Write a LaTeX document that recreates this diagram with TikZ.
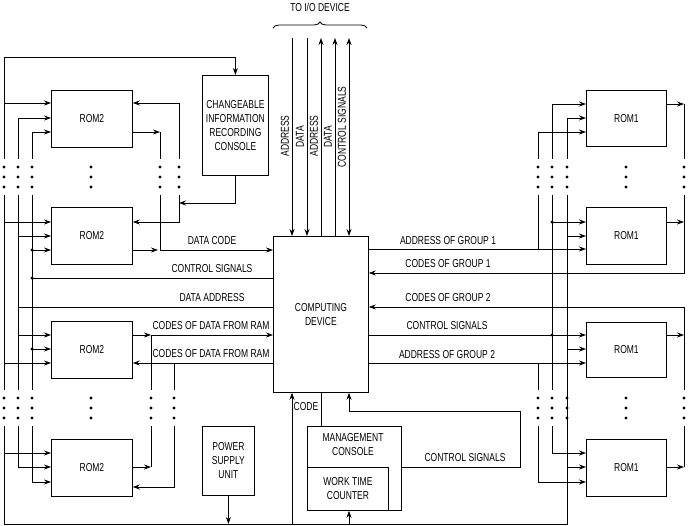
\documentclass[tikz,border=0pt]{standalone}
\usepackage{fontspec}
\setmainfont[FakeStretch=0.74]{Liberation Sans}
\usetikzlibrary{arrows.meta,decorations.pathreplacing}
\begin{document}
\begin{tikzpicture}[x=1pt,y=-1pt,line width=0.8pt,
  >={Stealth[length=7pt,width=5pt]},
  font=\fontsize{11.5}{14}\selectfont,
  box/.style={draw, inner sep=0pt, align=center, anchor=north west},
  lbl/.style={inner sep=0pt, align=center}]
\useasboundingbox (0,0) rectangle (690,526);
% boxes
\node[box, minimum width=81pt, minimum height=57pt] (r2a) at (51,90) {ROM2};
\node[box, minimum width=81pt, minimum height=57pt] (r2b) at (51,207) {ROM2};
\node[box, minimum width=81pt, minimum height=57pt] (r2c) at (51,321) {ROM2};
\node[box, minimum width=81pt, minimum height=57pt] (r2d) at (51,439) {ROM2};
\node[box, minimum width=80pt, minimum height=56pt] (r1a) at (586,90) {ROM1};
\node[box, minimum width=80pt, minimum height=57pt] (r1b) at (586,207) {ROM1};
\node[box, minimum width=80pt, minimum height=55pt] (r1c) at (586,322) {ROM1};
\node[box, minimum width=80pt, minimum height=57pt] (r1d) at (586,439) {ROM1};
\node[box, minimum width=66pt, minimum height=100pt] (chg) at (202,75) {CHANGEABLE\\INFORMATION\\RECORDING\\CONSOLE};
\node[box, minimum width=95pt, minimum height=156pt] (comp) at (273,236) {COMPUTING\\DEVICE};
\node[box, minimum width=52pt, minimum height=69pt] (pwr) at (202,426) {POWER\\SUPPLY\\UNIT};
\node[box, minimum width=94pt, minimum height=84pt] (mgmt) at (307,426) {};
\node[lbl] (mgmtl) at (353,445) {MANAGEMENT\\CONSOLE};
\node[box, minimum width=81pt, minimum height=43pt] (wtc) at (307,467) {WORK TIME\\COUNTER};

% I/O lines
\node[lbl] (io) at (320,7) {TO I/O DEVICE};
\draw[decorate,decoration={brace,amplitude=6pt}] (273,28) -- (367,28);
\draw[->] (292,38) -- (comp.north -| 292,0);
\draw[->] (307,38) -- (comp.north -| 307,0);
\draw[->] (comp.north -| 321,0) -- (321,38);
\draw[->] (comp.north -| 335,0) -- (335,38);
\draw[<->] (349,38) -- (comp.north -| 349,0);
\node[lbl,rotate=90] (va1) at (285,136) {ADDRESS};
\node[lbl,rotate=90] (vd1) at (300,137) {DATA};
\node[lbl,rotate=90] (va2) at (314,136) {ADDRESS};
\node[lbl,rotate=90] (vd2) at (328,137) {DATA};
\node[lbl,rotate=90] (vc) at (342,127) {CONTROL SIGNALS};

% dots
\foreach \x in {4,18,32,91,160,179,538,552,567,626,684}
  \foreach \y in {167,177,187} \fill (\x,\y) circle (1.6pt);
\foreach \x in {4,18,32,91,151,174,538,552,567,626,684}
  \foreach \y in {398,408,418} \fill (\x,\y) circle (1.6pt);

% ---------- left upper
\draw[->] (4,159) -- (4,57) -| (chg.north);
\draw[->] (4,103) -- (r2a.west |- 0,103);
\draw[->] (18,159) |- (r2a.west |- 0,118);
\draw[->] (32,159) |- (r2a.west |- 0,132);
\draw[->] (179,159) |- (r2a.east |- 0,103);
\draw[->] (r2a.east |- 0,132) -- (160,132);
\draw (160,132) -- (160,159);
% left middle
\draw (4,195) -- (4,390);
\draw (18,195) -- (18,390);
\draw (32,195) -- (32,390);
\draw[->] (4,222) -- (r2b.west |- 0,222);
\draw[->] (18,236) -- (r2b.west |- 0,236);
\draw[->] (32,250) -- (r2b.west |- 0,250);
\draw[->] (179,195) |- (r2b.east |- 0,222);
\draw[->] (chg.south) |- (179,203);
\draw[->] (r2b.east |- 0,250) -- (158,250);
\draw (160,195) -- (160,250);
\draw[->] (160,250) -- (comp.west |- 0,250);
\draw (comp.west |- 0,278) -- (32,278);
\draw (comp.west |- 0,307) -- (18,307);
\draw[->] (18,335) -- (r2c.west |- 0,335);
\draw[->] (32,349) -- (r2c.west |- 0,349);
\draw[->] (4,363) -- (r2c.west |- 0,363);
\foreach \y in {250,278,349} \fill (32,\y) circle (1.6pt);
\draw[->] (r2c.east |- 0,335) -- (151,335);
\draw[->] (151,335) -- (comp.west |- 0,335);
\draw (151,335) -- (151,390);
\draw[->] (comp.west |- 0,363) -- (r2c.east |- 0,363);
\draw (174,363) -- (174,390);
% left lower
\draw (4,426) -- (4,524) -- (567,524) -- (567,195);
\draw[->] (4,453) -- (r2d.west |- 0,453);
\draw[->] (18,426) |- (r2d.west |- 0,467);
\draw[->] (32,426) |- (r2d.west |- 0,482);
\draw[->] (r2d.east |- 0,467) -- (151,467);
\draw (151,467) -- (151,426);
\draw[->] (174,426) |- (r2d.east |- 0,487);

% labels left
\node[lbl] (t1) at (212,241) {DATA CODE};
\node[lbl] (t2) at (212,269) {CONTROL SIGNALS};
\node[lbl] (t3) at (212,298) {DATA ADDRESS};
\node[lbl] (t4) at (211,326) {CODES OF DATA FROM RAM};
\node[lbl] (t5) at (211,354) {CODES OF DATA FROM RAM};

% ---------- right upper
\draw[->] (552,159) |- (r1a.west |- 0,104);
\draw[->] (567,159) |- (r1a.west |- 0,118);
\draw[->] (538,159) |- (r1a.west |- 0,132);
\draw[->] (r1a.east |- 0,104) -- (684,104);
\draw (684,104) -- (684,159);
% right middle
\draw (552,195) -- (552,390);
\draw (538,195) -- (538,249);
\draw[->] (552,222) -- (r1b.west |- 0,222);
\draw[->] (567,236) -- (r1b.west |- 0,236);
\draw[->] (comp.east |- 0,249) -- (r1b.west |- 0,249);
\draw[->] (r1b.east |- 0,222) -- (684,222);
\draw[->] (684,195) |- (comp.east |- 0,273);
\draw[->] (684,390) |- (comp.east |- 0,307);
\draw[->] (comp.east |- 0,335) -- (r1c.west |- 0,335);
\draw[->] (567,349) -- (r1c.west |- 0,349);
\draw[->] (comp.east |- 0,363) -- (r1c.west |- 0,363);
\draw (538,363) -- (538,390);
\draw[->] (r1c.east |- 0,335) -- (684,335);
\foreach \y in {222,335} \fill (552,\y) circle (1.6pt);
% right lower
\draw[->] (552,426) |- (r1d.west |- 0,453);
\draw[->] (567,467) -- (r1d.west |- 0,467);
\draw[->] (538,426) |- (r1d.west |- 0,482);
\draw[->] (r1d.east |- 0,467) -- (684,467);
\draw (684,467) -- (684,426);

% labels right
\node[lbl] (s1) at (448,241) {ADDRESS OF GROUP 1};
\node[lbl] (s2) at (448,264) {CODES OF GROUP 1};
\node[lbl] (s3) at (448,298) {CODES OF GROUP 2};
\node[lbl] (s4) at (447,326) {CONTROL SIGNALS};
\node[lbl] (s5) at (447,355) {ADDRESS OF GROUP 2};

% ---------- bottom
\draw[->] (pwr.south) -- (pwr.south |- 0,524);
\draw[->] (292,524) -- (comp.south -| 292,0);
\node[lbl] (code) at (306,407) {CODE};
\draw (mgmt.north -| 321,0) -- (comp.south -| 321,0);
\draw[->] (349,524) -- (wtc.south -| 349,0);
\draw[->] (mgmt.east |- 0,467) -| (520,411) -| (comp.south -| 349,0);
\node[lbl] (cs) at (465,458) {CONTROL SIGNALS};
\end{tikzpicture}
\end{document}
